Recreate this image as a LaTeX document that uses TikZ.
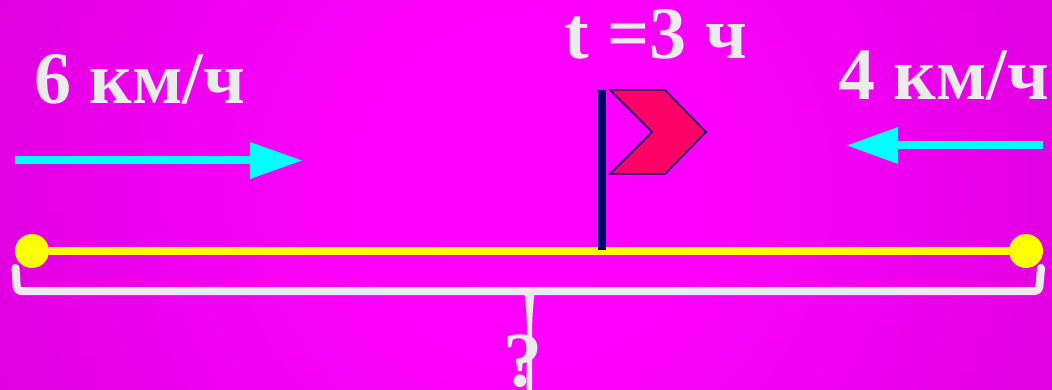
\documentclass[tikz,border=0pt]{standalone}
\usepackage{fontspec}
\setmainfont{Liberation Serif}
\pgfdeclareradialshading{bgshade}{\pgfpoint{0bp}{0bp}}{rgb(0bp)=(1,0,1); rgb(8bp)=(0.99,0,0.99); rgb(20bp)=(0.91,0,0.91); rgb(35bp)=(0.8,0,0.8); rgb(50bp)=(0.7,0,0.7)}
\definecolor{txt}{HTML}{EBEBEB}
\definecolor{pole}{HTML}{000066}
\definecolor{flagred}{HTML}{FF0066}
\definecolor{aqua}{HTML}{00FFFF}
\definecolor{lemon}{HTML}{FFFF00}
\tikzset{
  x=1pt,y=-1pt,
  lbl/.style={inner sep=0pt,anchor=base west,text=txt,font=\fontsize{74}{74}\selectfont\bfseries},
  dot/.style={circle,fill=lemon,draw=none,minimum size=34pt,inner sep=0pt},
  road/.style={draw=lemon,line width=8pt},
  shaft/.style={draw=aqua,line width=8pt},
  head/.style={fill=aqua,draw=none},
  bracket/.style={draw=txt,line width=8pt,line cap=round,line join=round}
}
\begin{document}
\begin{tikzpicture}
\useasboundingbox (0,0) rectangle (1052,390);
\begin{scope}
\clip (0,0) rectangle (1052,390);
\shade[shading=bgshade] (530,190) circle (570);
\end{scope}
% bracket
\coordinate (bl) at (15.5,268);
\coordinate (br) at (1041,268);
\draw[bracket,rounded corners=4pt] (bl) -- (17,291) -- (1039,291) -- (br);
\fill[txt] (524,290) -- (535,290) .. controls (533,305) and (532,320) .. (532,335) -- (532,390) -- (526.5,390) -- (527,335) .. controls (527,320) and (526,305) .. (524,290) -- cycle;
\node[lbl,anchor=base,font=\fontsize{78}{78}\selectfont\bfseries] (q) at (523,386) {?};
% road
\node[dot] (a) at (32,251) {};
\node[dot] (b) at (1026,251) {};
\draw[road] (a) -- (b);
% flag
\coordinate (ptop) at (602,90);
\coordinate (pbot) at (602,250);
\draw[pole,line width=8pt] (ptop) -- (pbot);
\draw[fill=flagred,draw=pole,line width=1.5pt,line join=miter] (610,90) -- (665,90) -- (706,132) -- (665,174) -- (610,174) -- (652,132) -- cycle;
% arrows
\coordinate (l0) at (15,160);
\coordinate (l1) at (252,160);
\draw[shaft] (l0) -- (l1);
\fill[head] (250,142) -- (302,160.5) -- (250,179) -- cycle;
\coordinate (r0) at (1043,145);
\coordinate (r1) at (896,145);
\draw[shaft] (r0) -- (r1);
\fill[head] (898,127) -- (847,145.5) -- (898,164) -- cycle;
% text
\node[lbl] (t6) at (34,104) {6 км/ч};
\node[lbl] (t4) at (838,100) {4 км/ч};
\node[lbl] (tt) at (564,59) {t =3 ч};
\end{tikzpicture}
\end{document}
